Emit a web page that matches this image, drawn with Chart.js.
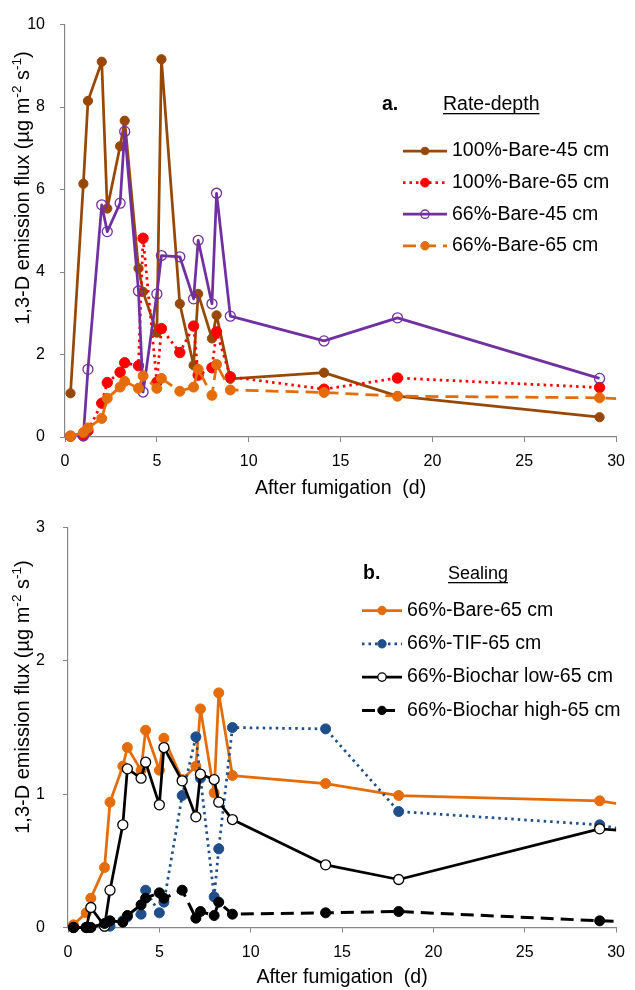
<!DOCTYPE html>
<html>
<head>
<meta charset="utf-8">
<script src="https://cdn.jsdelivr.net/npm/chart.js@4.4.0/dist/chart.umd.min.js"></script>
<style>
  body { margin: 0; background: #fff; }
  canvas { display: block; }
</style>
</head>
<body>
<canvas id="chartA" width="635" height="500"></canvas>
<canvas id="chartB" width="635" height="490"></canvas>
<script>
// sampling days after fumigation (last one sits just past the axis end)
const days = [0.3, 1.0, 1.25, 2.0, 2.3, 3.0, 3.25, 4.0, 4.25, 5.0, 5.25, 6.25, 7.0, 7.25, 8.0, 8.25, 9.0, 14.1, 18.1, 29.1, 31];

// panel a: rate-depth
const bare45Full = [1.06, 6.14, 8.15, 9.1, 5.54, 7.05, 7.67, 4.09, 3.52, 2.53, 9.16, 3.23, 1.74, 3.47, 2.39, 2.95, 1.41, 1.56, 0.99, 0.48, null];
const bare65Full = [0.02, 0.03, 0.15, 0.82, 1.32, 1.57, 1.8, 1.73, 4.82, 1.33, 2.63, 2.05, 2.69, 1.5, 1.68, 2.55, 1.46, 1.16, 1.43, 1.2, null];
const bare45Part = [null, 0.03, 1.64, 5.63, 4.98, 5.67, 7.41, 3.54, 1.09, 3.47, 4.4, 4.37, 3.35, 4.77, 3.23, 5.91, 2.93, 2.33, 2.89, 1.42, null];
const bare65Part = [0.02, 0.11, 0.22, 0.45, 0.94, 1.21, 1.35, 1.18, 1.48, 1.18, 1.42, 1.11, 1.21, 1.64, 1.01, 1.76, 1.14, 1.08, 0.99, 0.95, 0.91];

// panel b: sealing
const tif65 = [0.0, 0.0, 0.0, 0.01, 0.01, 0.05, 0.08, 0.1, 0.28, 0.11, 0.19, 0.99, 1.43, 1.12, 0.23, 0.59, 1.5, 1.49, 0.87, 0.77, 0.72];
const biocharLow = [0.0, 0.0, 0.15, 0.01, 0.28, 0.77, 1.19, 1.12, 1.24, 0.92, 1.35, 1.1, 0.83, 1.15, 1.11, 0.94, 0.81, 0.47, 0.36, 0.74, 0.72];
const biocharHigh = [0.0, 0.0, 0.0, 0.03, 0.05, 0.04, 0.09, 0.17, 0.22, 0.26, 0.22, 0.28, 0.07, 0.12, 0.09, 0.19, 0.1, 0.11, 0.12, 0.05, 0.04];

const xTicks = [0, 5, 10, 15, 20, 25, 30];
const yTicksA = [0, 2, 4, 6, 8, 10];
const yTicksB = [0, 1, 2, 3];

const FONT = '"Liberation Sans", Arial, sans-serif';
const AXIS = '#868686';

function pts(vals) {
  return days.map((d, i) => ({ x: d, y: vals[i] })).filter(p => p.y !== null);
}

function series(label, vals, color, opts) {
  return Object.assign({
    label: label,
    data: pts(vals),
    borderColor: color,
    backgroundColor: color,
    pointBackgroundColor: color,
    pointBorderColor: color,
    borderWidth: 2.75,
    borderJoinStyle: 'round',
    pointRadius: 4.8,
    pointBorderWidth: 1,
    tension: 0,
    spanGaps: true,
    clip: { left: 12, top: 12, right: 0, bottom: 12 }
  }, opts || {});
}

// legend drawn inside the plot, excel style
const boxLegend = {
  id: 'boxLegend',
  afterDatasetsDraw(chart, args, o) {
    const ctx = chart.ctx;
    ctx.save();
    ctx.fillStyle = '#000';
    ctx.textBaseline = 'middle';
    ctx.textAlign = 'left';
    ctx.font = 'bold 19.5px ' + FONT;
    ctx.fillText(o.tag, o.tagX, o.headY);
    ctx.font = o.headFont + 'px ' + FONT;
    ctx.fillText(o.head, o.headX, o.headY);
    const w = ctx.measureText(o.head).width;
    ctx.fillRect(o.headX, o.headY + 8, w, 1.3);

    ctx.font = '19.5px ' + FONT;
    chart.data.datasets.forEach((ds, i) => {
      const y = o.rowY + i * o.rowGap;
      ctx.save();
      ctx.strokeStyle = ds.borderColor;
      ctx.lineWidth = ds.borderWidth;
      ctx.setLineDash(ds.borderDash || []);
      ctx.beginPath();
      ctx.moveTo(o.lineX0, y);
      ctx.lineTo(o.lineX1, y);
      ctx.stroke();
      ctx.setLineDash([]);
      const mx = (o.lineX0 + o.lineX1) / 2;
      ctx.beginPath();
      ctx.arc(mx, y, ds.pointRadius - 0.8, 0, Math.PI * 2);
      if (ds.pointBackgroundColor !== 'rgba(0,0,0,0)') {
        ctx.fillStyle = ds.pointBackgroundColor;
        ctx.fill();
      }
      ctx.lineWidth = ds.pointBorderWidth;
      ctx.strokeStyle = ds.pointBorderColor;
      ctx.stroke();
      ctx.restore();
      ctx.fillText(ds.label, o.textX, y);
    });
    ctx.restore();
  }
};

// axis titles, y title carries superscripts
const axisTitles = {
  id: 'axisTitles',
  afterDraw(chart, args, o) {
    const ctx = chart.ctx;
    const fs = o.ySize;
    const runs = [
      { t: '1,3-D emission flux (µg m' },
      { t: '-2', sup: true },
      { t: ' s' },
      { t: '-1', sup: true },
      { t: ')' }
    ];
    ctx.save();
    ctx.fillStyle = '#000';
    ctx.textBaseline = 'alphabetic';
    let total = 0;
    runs.forEach(r => {
      ctx.font = (r.sup ? fs * 0.68 : fs) + 'px ' + FONT;
      r.w = ctx.measureText(r.t).width;
      total += r.w;
    });
    ctx.translate(o.yX, o.yY);
    ctx.rotate(-Math.PI / 2);
    let x = -total / 2;
    runs.forEach(r => {
      ctx.font = (r.sup ? fs * 0.68 : fs) + 'px ' + FONT;
      ctx.fillText(r.t, x, fs * 0.35 - (r.sup ? fs * 0.38 : 0));
      x += r.w;
    });
    ctx.restore();

    ctx.save();
    ctx.fillStyle = '#000';
    ctx.font = o.xSize + 'px ' + FONT;
    ctx.textAlign = 'center';
    ctx.textBaseline = 'middle';
    const ca = chart.chartArea;
    ctx.fillText('After fumigation  (d)', (ca.left + ca.right) / 2, o.xY);
    ctx.restore();
  }
};

function axes(yMax, yTicks, yWidth, xHeight, yPad) {
  return {
    x: {
      type: 'linear', min: 0, max: 30,
      afterBuildTicks: s => { s.ticks = xTicks.map(v => ({ value: v })); },
      ticks: { color: '#000', font: { size: 16, family: FONT }, padding: 10, maxRotation: 0 },
      grid: { drawOnChartArea: false, tickLength: 5, color: AXIS },
      border: { color: AXIS, width: 1.2 },
      afterFit: s => { s.height = xHeight; }
    },
    y: {
      type: 'linear', min: 0, max: yMax,
      afterBuildTicks: s => { s.ticks = yTicks.map(v => ({ value: v })); },
      ticks: { color: '#000', font: { size: 16, family: FONT }, padding: yPad },
      grid: { drawOnChartArea: false, tickLength: 5, color: AXIS },
      border: { color: AXIS, width: 1.2 },
      afterFit: s => { s.width = yWidth; }
    }
  };
}

const openPurple = { pointBackgroundColor: 'rgba(0,0,0,0)', pointBorderWidth: 1.3, pointRadius: 5 };

new Chart(document.getElementById('chartA'), {
  type: 'line',
  data: {
    datasets: [
      series('100%-Bare-45 cm', bare45Full, '#974806', { order: 4, pointRadius: 4.6 }),
      series('100%-Bare-65 cm', bare65Full, '#FF0000', { order: 3, borderDash: [2.5, 4], pointRadius: 5.2 }),
      series('66%-Bare-45 cm', bare45Part, '#7030A0', Object.assign({ order: 2 }, openPurple)),
      series('66%-Bare-65 cm', bare65Part, '#E46C0A', { order: 1, borderDash: [13, 7], pointRadius: 5 })
    ]
  },
  options: {
    responsive: false,
    animation: false,
    layout: { padding: { left: 0, right: 13, top: 23, bottom: 0 } },
    scales: axes(10, yTicksA, 65, 63, 15),
    plugins: {
      legend: { display: false },
      tooltip: { enabled: false },
      boxLegend: {
        tag: 'a.', tagX: 382, head: 'Rate-depth', headX: 443, headY: 105, headFont: 19.5,
        lineX0: 403, lineX1: 447, textX: 452, rowY: 151, rowGap: 31.6
      },
      axisTitles: { ySize: 20, xSize: 19.5, yX: 22, yY: 188, xY: 489 }
    }
  },
  plugins: [boxLegend, axisTitles]
});

new Chart(document.getElementById('chartB'), {
  type: 'line',
  data: {
    datasets: [
      series('66%-Bare-65 cm', bare65Part, '#E46C0A', { order: 4, pointRadius: 5 }),
      series('66%-TIF-65 cm', tif65, '#1F4E8A', { order: 3, borderDash: [2.5, 4], pointRadius: 5 }),
      series('66%-Biochar low-65 cm', biocharLow, '#000000', { order: 2, pointBackgroundColor: '#ffffff', pointBorderWidth: 1.3, pointRadius: 5 }),
      series('66%-Biochar high-65 cm', biocharHigh, '#000000', { order: 1, borderDash: [13, 7], borderWidth: 3, pointRadius: 5 })
    ]
  },
  options: {
    responsive: false,
    animation: false,
    layout: { padding: { left: 0, right: 18.5, top: 21, bottom: 0 } },
    scales: axes(3, yTicksB, 68, 62.5, 18),
    plugins: {
      legend: { display: false },
      tooltip: { enabled: false },
      boxLegend: {
        tag: 'b.', tagX: 363, head: 'Sealing', headX: 448, headY: 74, headFont: 18,
        lineX0: 362, lineX1: 402, textX: 407, rowY: 110.5, rowGap: 33.3
      },
      axisTitles: { ySize: 20, xSize: 19.5, yX: 22, yY: 197, xY: 478 }
    }
  },
  plugins: [boxLegend, axisTitles]
});
</script>
</body>
</html>
